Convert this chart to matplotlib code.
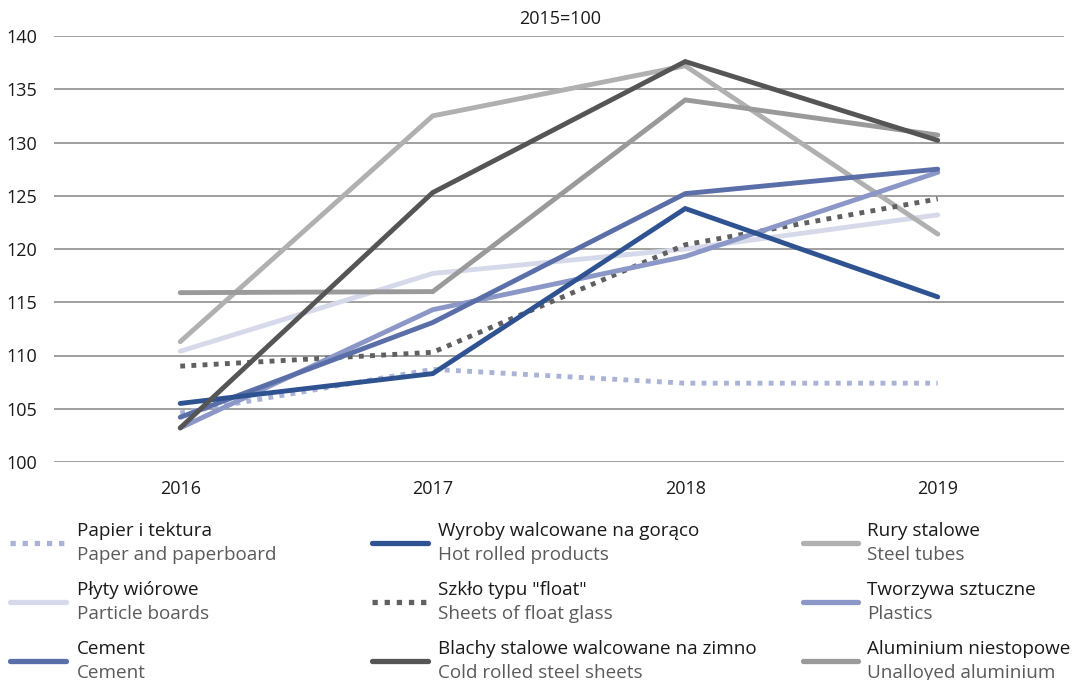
import matplotlib
matplotlib.use("Agg")
import matplotlib.pyplot as plt
from matplotlib.lines import Line2D

plt.rcParams['font.family'] = ['Open Sans', 'DejaVu Sans']

years = ["2016", "2017", "2018", "2019"]

papier = [104.6, 108.7, 107.4, 107.4]
plyty = [110.4, 117.7, 120.0, 123.2]
cement = [104.2, 113.1, 125.2, 127.5]
hot_rolled = [105.5, 108.3, 123.8, 115.5]
float_glass = [109.0, 110.3, 120.4, 124.7]
cold_rolled = [103.2, 125.3, 137.6, 130.2]
rury = [111.3, 132.5, 137.2, 121.4]
plastics = [103.2, 114.3, 119.3, 127.2]
aluminium = [115.9, 116.0, 134.0, 130.7]

labels_pl = ["Papier i tektura", "Płyty wiórowe", "Cement",
             "Wyroby walcowane na gorąco", 'Szkło typu "float"', "Blachy stalowe walcowane na zimno",
             "Rury stalowe", "Tworzywa sztuczne", "Aluminium niestopowe"]
labels_en = ["Paper and paperboard", "Particle boards", "Cement",
             "Hot rolled products", "Sheets of float glass", "Cold rolled steel sheets",
             "Steel tubes", "Plastics", "Unalloyed aluminium"]

series = [papier, plyty, cement, hot_rolled, float_glass, cold_rolled, rury, plastics, aluminium]
colors = ["#aab3d6", "#d6d9ea", "#5a6ea8", "#2f5391", "#606060", "#555555", "#b0b0b0", "#8b97c6", "#9a9a9a"]
dotted = [True, False, False, False, True, False, False, False, False]
# drawing order roughly as in the original (later = on top)
order = [1, 0, 6, 8, 4, 7, 2, 3, 5]

fig = plt.figure(figsize=(10.74, 6.8), dpi=100)
ax = fig.add_axes([54 / 1074, 1 - 462 / 680, 1010 / 1074, 426 / 680])

x = range(len(years))
for i in order:
    if dotted[i]:
        ax.plot(x, series[i], color=colors[i], lw=3.5, ls=(0, (1, 1.3)),
                dash_capstyle="butt", solid_joinstyle="miter", zorder=3)
    else:
        ax.plot(x, series[i], color=colors[i], lw=3.5, solid_capstyle="round",
                solid_joinstyle="miter", zorder=3)

ax.set_xlim(-0.5, 3.5)
ax.set_ylim(100, 140)
ax.set_yticks(range(100, 141, 5))
ax.set_xticks(list(x))
ax.set_xticklabels(years)
ax.grid(axis="y", color="#858585", lw=1.1)
ax.set_axisbelow(True)
for s in ax.spines.values():
    s.set_visible(False)
ax.tick_params(length=0, labelsize=13, colors="#1a1a1a")
ax.tick_params(axis="y", pad=12)
ax.tick_params(axis="x", pad=13)

fig.text(560 / 1074, 1 - 19 / 680, "2015=100", ha="center", va="center", fontsize=13, color="#1a1a1a")

# legend, three columns
col_line = [(10, 66), (372, 428), (803, 858)]
col_text = [77, 438, 867]
row_y = [543, 602, 661]
for k in range(9):
    c, r = k // 3, k % 3
    yl = 1 - row_y[r] / 680
    ln = Line2D([col_line[c][0] / 1074, col_line[c][1] / 1074], [yl, yl], transform=fig.transFigure,
                color=colors[k], lw=3.8,
                ls=(0, (1, 1.3)) if dotted[k] else "-",
                solid_capstyle="round", dash_capstyle="butt")
    fig.add_artist(ln)
    fig.text(col_text[c] / 1074, 1 - (row_y[r] - 12) / 680, labels_pl[k], ha="left", va="center",
             fontsize=13.6, color="#1a1a1a")
    fig.text(col_text[c] / 1074, 1 - (row_y[r] + 12) / 680, labels_en[k], ha="left", va="center",
             fontsize=13.6, color="#5a5a5a")

fig.savefig("out.png", dpi=100)
